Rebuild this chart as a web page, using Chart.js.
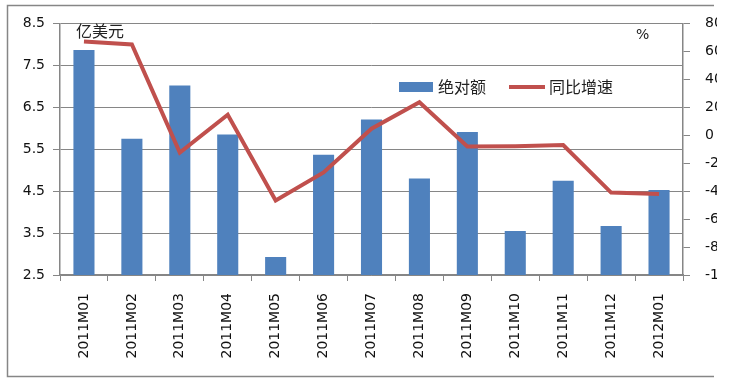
<!DOCTYPE html>
<html>
<head>
<meta charset="utf-8">
<script src="https://cdn.jsdelivr.net/npm/chart.js@4"></script>
<style>
  html, body { margin: 0; padding: 0; background: #fff; }
  #wrap { width: 717px; height: 384px; }
</style>
</head>
<body>
<div id="wrap"><canvas id="tradeChart" width="717" height="384"></canvas></div>
<script>
// 月份
const months = ['2011M01', '2011M02', '2011M03', '2011M04', '2011M05', '2011M06', '2011M07',
                '2011M08', '2011M09', '2011M10', '2011M11', '2011M12', '2012M01'];
// 绝对额 (亿美元)
const amount = [7.87, 5.75, 7.02, 5.85, 2.93, 5.37, 6.21, 4.80, 5.91, 3.55, 4.75, 3.67, 4.53];
// 同比增速 (%)
const growth = [67.1, 65, -12.3, 14.7, -46.7, -26.6, 4.7, 23.6, -8, -7.8, -7, -41, -42.1];

const seriesNames = ['绝对额', '同比增速'];
const leftTicks = { min: 2.5, max: 8.5, step: 1 };
const rightTicks = { min: -100, max: 80, step: 20 };

const BLUE = '#4F81BD';
const RED = '#C0504D';
const AXIS = '#868686';
const tickFont = { family: "'DejaVu Sans', sans-serif", size: 14 };
const cjkFont = "16px 'Noto Sans CJK SC', sans-serif";

// 外框、单位文字和图例
const decorPlugin = {
    id: 'decor',
    afterDraw(chart) {
        const ctx = chart.ctx;
        ctx.save();
        ctx.strokeStyle = AXIS;
        ctx.lineWidth = 1.5;
        ctx.beginPath();
        ctx.moveTo(714, 5.5);
        ctx.lineTo(7.5, 5.5);
        ctx.lineTo(7.5, 376.5);
        ctx.lineTo(714, 376.5);
        ctx.stroke();

        ctx.fillStyle = '#222';
        ctx.font = cjkFont;
        ctx.textBaseline = 'middle';
        ctx.textAlign = 'left';
        ctx.fillText('亿美元', 76, 31);
        ctx.font = "14px 'DejaVu Sans', sans-serif";
        ctx.fillText('%', 636, 35);

        // 图例
        const ly = 87;
        ctx.fillStyle = BLUE;
        ctx.fillRect(399, ly - 5, 34, 10);
        ctx.fillStyle = '#222';
        ctx.font = cjkFont;
        ctx.fillText(chart.data.datasets[1].label, 438, ly);
        ctx.strokeStyle = RED;
        ctx.lineWidth = 4;
        ctx.beginPath();
        ctx.moveTo(509, ly);
        ctx.lineTo(545, ly);
        ctx.stroke();
        ctx.fillText(chart.data.datasets[0].label, 549, ly);
        ctx.restore();
    }
};

new Chart(document.getElementById('tradeChart'), {
    data: {
        labels: months,
        datasets: [{
            type: 'line',
            label: seriesNames[1],
            data: growth,
            yAxisID: 'y1',
            borderColor: RED,
            borderWidth: 4,
            pointRadius: 0,
            tension: 0,
            order: 0
        }, {
            type: 'bar',
            label: seriesNames[0],
            data: amount,
            yAxisID: 'y',
            backgroundColor: BLUE,
            barPercentage: 0.44,
            categoryPercentage: 1,
            order: 1
        }]
    },
    options: {
        responsive: false,
        animation: false,
        layout: { padding: { top: 23.5, left: 0, right: 0, bottom: 0 } },
        plugins: {
            legend: { display: false },
            tooltip: { enabled: false }
        },
        scales: {
            x: {
                offset: true,
                grid: {
                    offset: true,
                    drawOnChartArea: false,
                    drawTicks: true,
                    tickLength: 6,
                    color: AXIS
                },
                border: { color: AXIS, width: 1.5 },
                ticks: {
                    color: '#111',
                    font: tickFont,
                    minRotation: 90,
                    maxRotation: 90,
                    autoSkip: false,
                    padding: 12
                },
                afterFit(scale) { scale.height = 109; }
            },
            y: {
                position: 'left',
                min: leftTicks.min,
                max: leftTicks.max,
                ticks: {
                    stepSize: leftTicks.step,
                    color: '#111',
                    font: tickFont,
                    padding: 8,
                    callback: v => v.toFixed(1)
                },
                grid: {
                    color: AXIS,
                    lineWidth: 1,
                    tickLength: 7,
                    tickColor: AXIS,
                    tickBorderDash: [],
                    borderDash: [8, 3]
                },
                border: { color: AXIS, width: 1.5 },
                afterFit(scale) { scale.width = 60; }
            },
            y1: {
                position: 'right',
                min: rightTicks.min,
                max: rightTicks.max,
                ticks: {
                    stepSize: rightTicks.step,
                    color: '#111',
                    font: tickFont,
                    padding: 15
                },
                grid: {
                    drawOnChartArea: false,
                    tickLength: 7,
                    color: AXIS
                },
                border: { color: AXIS, width: 1.5 },
                afterFit(scale) { scale.width = 34; }
            }
        }
    },
    plugins: [decorPlugin]
});
</script>
</body>
</html>
